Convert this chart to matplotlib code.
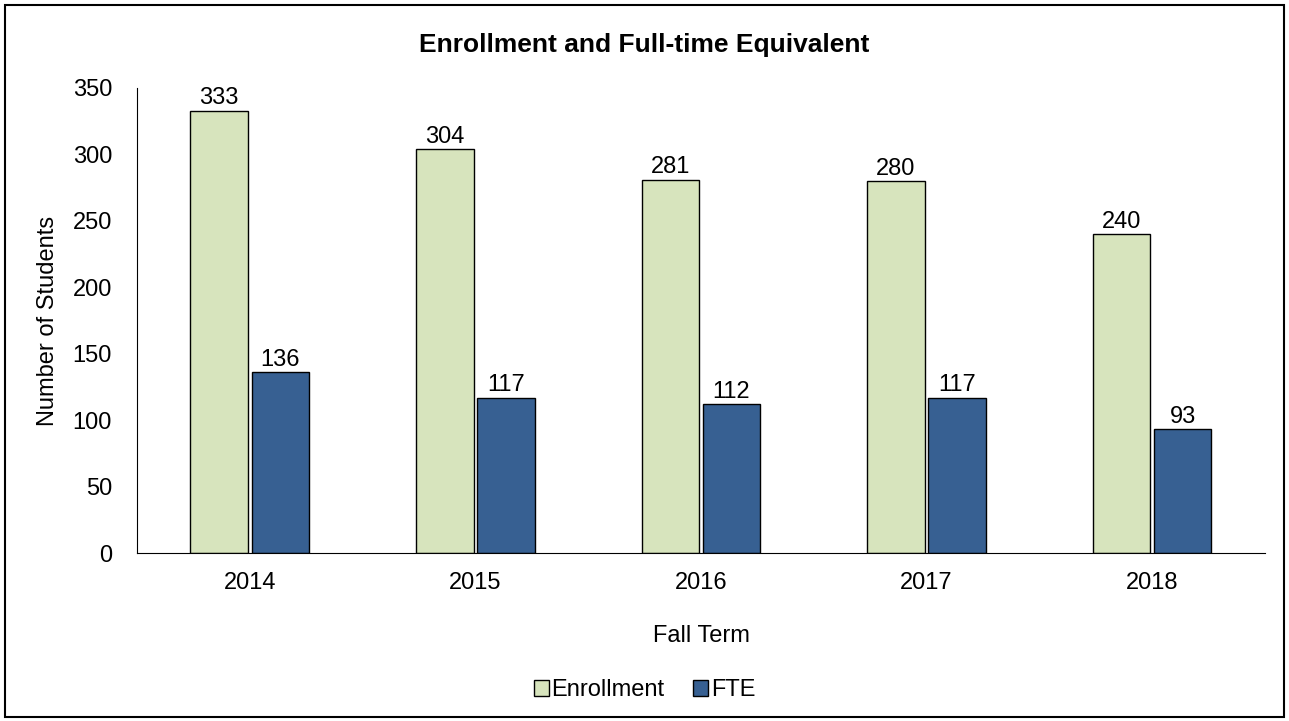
import numpy as np
import matplotlib.pyplot as plt
from matplotlib.patches import Rectangle

plt.rcParams['font.family'] = ['Liberation Sans', 'DejaVu Sans']

years = ["2014", "2015", "2016", "2017", "2018"]
enrollment = [333, 304, 281, 280, 240]
fte = [136, 117, 112, 117, 93]

fig = plt.figure(figsize=(12.89, 7.21), dpi=100)
ax = fig.add_axes([0.1063, 0.233, 0.875, 0.645])

x = np.arange(len(years))
w = 0.255
b1 = ax.bar(x - w / 2 - 0.008, enrollment, w, color="#D7E4BD", edgecolor="black", linewidth=1, label="Enrollment")
b2 = ax.bar(x + w / 2 + 0.008, fte, w, color="#376092", edgecolor="black", linewidth=1, label="FTE")
ax.bar_label(b1, fontsize=17, padding=1)
ax.bar_label(b2, fontsize=17, padding=1)

ax.set_xlim(-0.5, 4.5)
ax.set_ylim(0, 350)
ax.set_yticks(range(0, 351, 50))
ax.set_xticks(x)
ax.set_xticklabels(years)
ax.tick_params(axis="both", length=0, labelsize=17)
ax.tick_params(axis="x", pad=14)
ax.tick_params(axis="y", pad=18)
for s in ["top", "right"]:
    ax.spines[s].set_visible(False)

ax.set_xlabel("Fall Term", fontsize=17, labelpad=22)
ax.set_ylabel("Number of Students", fontsize=17, labelpad=10)
fig.text(0.5, 0.938, "Enrollment and Full-time Equivalent", ha="center", va="center",
         fontsize=19, fontweight="bold")

fig.legend(handles=[b1, b2], loc="center", bbox_to_anchor=(0.5, 0.043), ncol=2, frameon=False,
           fontsize=17, handlelength=0.65, handleheight=0.65, handletextpad=0.1, columnspacing=1.2)

fig.patches.append(Rectangle((0.004, 0.006), 0.992, 0.987, transform=fig.transFigure,
                             fill=False, edgecolor="black", linewidth=1.5))

fig.savefig("out.png", dpi=100)
